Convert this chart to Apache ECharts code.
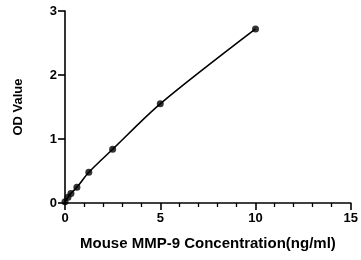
<!DOCTYPE html>
<html>
<head>
<meta charset="utf-8">
<script src="https://cdn.jsdelivr.net/npm/echarts@6/dist/echarts.min.js"></script>
<style>
  html, body { margin: 0; padding: 0; background: #fff; }
  #chart { width: 361px; height: 260px; }
</style>
</head>
<body>
<div id="chart"></div>
<script>
// standard curve points (concentration ng/ml, OD)
var concentrations = [0, 0.156, 0.3125, 0.625, 1.25, 2.5, 5, 10];
var odValues = [0.02, 0.09, 0.15, 0.245, 0.48, 0.84, 1.55, 2.72];
var xTicks = [0, 5, 10, 15];
var yTicks = [0, 1, 2, 3];

var points = concentrations.map(function (c, i) { return [c, odValues[i]]; });

var chart = echarts.init(document.getElementById('chart'), null, { renderer: 'canvas' });

var labelFont = {
  color: '#000',
  fontFamily: 'Liberation Sans, Arial, sans-serif',
  fontWeight: 'bold',
  fontSize: 13
};

var option = {
  animation: false,
  grid: { left: 65, right: 8, top: 11, bottom: 57, containLabel: false },
  xAxis: {
    type: 'value',
    min: xTicks[0],
    max: xTicks[xTicks.length - 1],
    interval: 5,
    name: 'Mouse MMP-9 Concentration(ng/ml)',
    nameLocation: 'middle',
    nameGap: 33,
    nameTextStyle: Object.assign({}, labelFont, { fontSize: 15 }),
    axisLine: { show: true, onZero: false, lineStyle: { color: '#000', width: 1.6 } },
    axisTick: { show: true, length: 7, lineStyle: { color: '#000', width: 1.6 } },
    minorTick: { show: true, splitNumber: 5, length: 4, lineStyle: { color: '#000', width: 1.3 } },
    axisLabel: Object.assign({ margin: 9 }, labelFont),
    splitLine: { show: false }
  },
  yAxis: {
    type: 'value',
    min: yTicks[0],
    max: yTicks[yTicks.length - 1],
    interval: 1,
    name: 'OD Value',
    nameLocation: 'middle',
    nameGap: 40,
    nameTextStyle: Object.assign({}, labelFont, { fontSize: 13 }),
    axisLine: { show: true, onZero: false, lineStyle: { color: '#000', width: 1.6 } },
    axisTick: { show: true, length: 7, lineStyle: { color: '#000', width: 1.6 } },
    axisLabel: Object.assign({ margin: 8 }, labelFont),
    splitLine: { show: false }
  },
  series: [
    {
      type: 'line',
      data: points,
      smooth: 0.3,
      showSymbol: false,
      lineStyle: { color: '#000', width: 1.6 },
      z: 2
    },
    {
      type: 'scatter',
      data: points,
      symbol: 'circle',
      symbolSize: 7,
      itemStyle: { color: '#000' },
      z: 3
    }
  ]
};

chart.setOption(option);
</script>
</body>
</html>
